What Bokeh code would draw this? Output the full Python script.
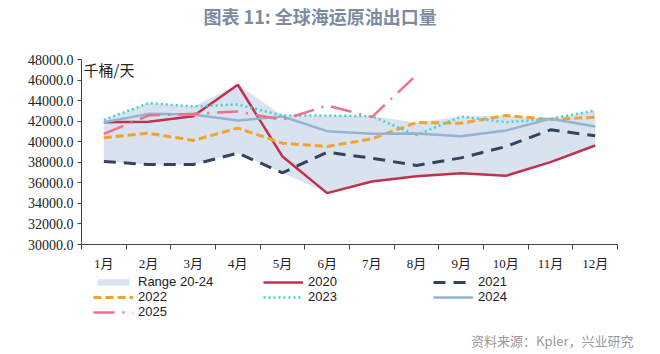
import numpy as np
from bokeh.plotting import figure
from bokeh.layouts import column
from bokeh.models import (Range1d, FixedTicker, NumeralTickFormatter, Label,
                          Legend, LegendItem, Title)
from bokeh.embed import file_html
from bokeh.resources import INLINE

months = ["1月", "2月", "3月", "4月", "5月", "6月", "7月", "8月", "9月", "10月", "11月", "12月"]
y2020 = [41900, 41950, 42480, 45540, 38560, 35000, 36130, 36650, 36940, 36680, 38010, 39630]
y2021 = [38075, 37780, 37780, 38890, 36980, 38980, 38400, 37690, 38430, 39530, 41160, 40580]
y2022 = [40380, 40830, 40120, 41320, 39860, 39530, 40280, 41870, 41800, 42550, 42160, 42390]
y2023 = [42130, 43750, 43430, 43620, 42550, 42550, 42480, 40650, 42450, 41900, 42230, 43040]
y2024 = [41900, 42710, 42650, 42060, 42450, 41030, 40770, 40800, 40540, 41090, 42230, 41480]
y2025 = [40770, 42550, 42710, 42940, 42130, 43520, 42390, 46500]
y_ticks = list(range(30000, 48001, 2000))
series_names = ["Range 20-24", "2020", "2021", "2022", "2023", "2024", "2025"]

x = list(range(1, 13))
hist = np.array([y2020, y2021, y2022, y2023, y2024])
band_lo = hist.min(axis=0)
band_hi = hist.max(axis=0)

CJK = "Noto Sans CJK SC"
SERIF = "'Liberation Serif', 'Noto Sans CJK SC'"

BAND = dict(fill_color="#d9e2ef", fill_alpha=1.0)
STY = {
    "2020": dict(line_color="#c3304c", line_width=2.5),
    "2021": dict(line_color="#34435e", line_width=3, line_dash="12 8"),
    "2022": dict(line_color="#f2a22e", line_width=3, line_dash="8 4"),
    "2023": dict(line_color="#3fd3c6", line_width=2.5, line_dash="2 3"),
    "2024": dict(line_color="#93b3d3", line_width=2.5),
    "2025": dict(line_color="#ef6f8c", line_width=2.5, line_dash="21 8 2 8"),
}


def blank(h, **kw):
    f = figure(width=660, height=h, output_backend="svg", toolbar_location=None,
               x_range=Range1d(0, 1), y_range=Range1d(0, 1),
               x_axis_type=None, y_axis_type=None, min_border=0, **kw)
    f.outline_line_color = None
    f.grid.visible = False
    f.background_fill_color = "white"
    f.border_fill_color = "white"
    return f


# ---- title strip (frame is aligned with the chart frame: x 81..617)
ft = blank(34)
ft.add_layout(Label(x=122, y=19, x_units="screen", y_units="screen",
                    text="图表 11: 全球海运原油出口量", text_font=CJK,
                    text_font_size="18px", text_font_style="bold",
                    text_color="#7c8ba2", text_baseline="middle"))

# ---- main chart
p = figure(width=660, height=240, output_backend="svg", toolbar_location=None,
           x_range=Range1d(0.5, 12.5), y_range=Range1d(30000, 48000),
           min_border_left=81, min_border_right=43, min_border_top=25,
           min_border_bottom=30)
p.outline_line_color = None
p.grid.visible = False
p.background_fill_color = "white"
p.border_fill_color = "white"

p.varea(x=x, y1=band_lo, y2=band_hi, **BAND)
p.line(x, y2020, **STY["2020"])
p.line(x, y2021, **STY["2021"])
p.line(x, y2022, **STY["2022"])
p.line(x, y2023, **STY["2023"])
p.line(x, y2024, **STY["2024"])
p.line(x[:len(y2025)], y2025, **STY["2025"])

xa = p.xaxis[0]
xa.ticker = FixedTicker(ticks=x, minor_ticks=[i + 0.5 for i in range(0, 13)])
xa.major_label_overrides = {i + 1: m for i, m in enumerate(months)}
xa.major_tick_out = 0
xa.major_tick_in = 0
xa.minor_tick_out = 5
xa.minor_tick_in = 0
xa.minor_tick_line_color = "#444444"
xa.axis_line_color = "#444444"
xa.major_label_standoff = 6
xa.major_label_text_font = SERIF
xa.major_label_text_font_size = "13px"
xa.major_label_text_color = "#222222"

ya = p.yaxis[0]
ya.ticker = FixedTicker(ticks=y_ticks)
ya.formatter = NumeralTickFormatter(format="0.0")
ya.major_tick_out = 4
ya.major_tick_in = 0
ya.minor_tick_out = 0
ya.minor_tick_in = 0
ya.axis_line_color = "#444444"
ya.major_tick_line_color = "#444444"
ya.major_label_standoff = 4
ya.major_label_text_font = SERIF
ya.major_label_text_font_size = "14px"
ya.major_label_text_color = "#222222"

p.add_layout(Label(x=2, y=175, x_units="screen", y_units="screen",
                   text="千桶/天", text_font=CJK, text_font_size="15px",
                   text_color="#222222", text_baseline="middle"))

# ---- legend + source strip (legend keys carry style only, no data points)
fb = blank(80, min_border_bottom=28)
nan = [float("nan")]
keys = [fb.varea(x=nan, y1=nan, y2=nan, **BAND)]
for name in series_names[1:]:
    keys.append(fb.line(x=nan, y=nan, **STY[name]))
legend = Legend(items=[LegendItem(label=n, renderers=[r]) for n, r in zip(series_names, keys)],
                orientation="horizontal", ncols=3, location=(12, 4))
legend.glyph_width = 40
legend.glyph_height = 8
legend.label_height = 15
legend.label_width = 125
legend.label_standoff = 5
legend.spacing = 0
legend.padding = 0
legend.margin = 0
legend.background_fill_alpha = 0
legend.border_line_color = None
legend.label_text_font = "Liberation Sans"
legend.label_text_font_size = "13px"
legend.label_text_color = "#222222"
legend.label_text_baseline = "middle"
fb.add_layout(legend, "center")
fb.add_layout(Title(text="资料来源：Kpler，兴业研究", align="right", offset=-16,
                    text_font=CJK, text_font_size="13px", text_font_style="normal",
                    text_color="#999999"), "below")

layout = column(ft, p, fb, spacing=0)
open("out.html", "w").write(file_html(layout, INLINE))
